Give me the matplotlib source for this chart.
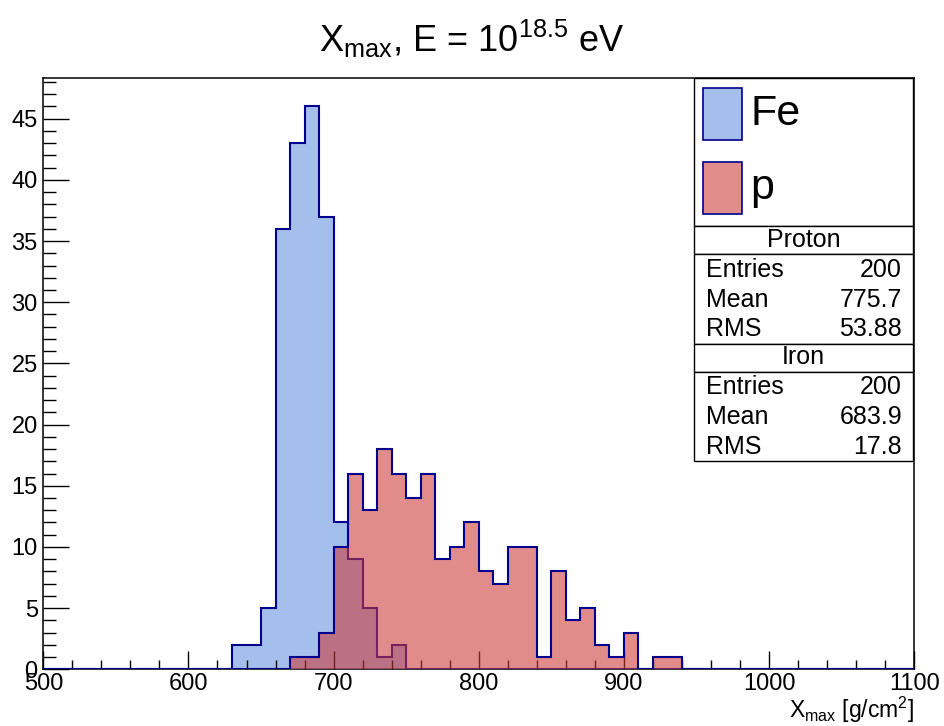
#!/usr/bin/env python3

import numpy as np
import matplotlib
matplotlib.use('Agg')
import matplotlib.pyplot as plt
from matplotlib.patches import Rectangle

plt.rcParams['font.family'] = ['Liberation Sans', 'DejaVu Sans']
plt.rcParams['mathtext.fontset'] = 'custom'
plt.rcParams['mathtext.rm'] = 'Liberation Sans'
plt.rcParams['mathtext.it'] = 'Liberation Sans:italic'

# 60 bins of 10 g/cm2 between 500 and 1100
x_lo = 500
x_hi = 1100
bin_width = 10

# Iron counts, bins 630 .. 750
iron_start = 630
iron_counts = [2, 2, 5, 36, 43, 46, 37, 12, 9, 5, 1, 2]

# Proton counts, bins 670 .. 940
proton_start = 670
proton_counts = [1, 1, 3, 10, 16, 13, 18, 16, 14, 16, 9, 10, 12, 8, 7,
                 10, 10, 1, 8, 4, 5, 2, 1, 3, 0, 1, 1]

legend_labels = ["Fe", "p"]
stat_names = ["Entries", "Mean", "RMS"]
proton_stats = ["200", "775.7", "53.88"]
iron_stats = ["200", "683.9", "17.8"]

edges = np.arange(x_lo, x_hi + bin_width, bin_width)


def full_hist(start, counts):
    h = np.zeros(len(edges) - 1)
    i0 = (start - x_lo) // bin_width
    h[i0:i0 + len(counts)] = counts
    return h


iron = full_hist(iron_start, iron_counts)
proton = full_hist(proton_start, proton_counts)

navy = '#00008f'
blue_fill = (0.30, 0.50, 0.86, 0.50)
red_fill = (0.80, 0.22, 0.22, 0.58)

W, H = 944, 726
fig = plt.figure(figsize=(W / 100, H / 100), dpi=100)

# frame: left 43, right 914, top 78, bottom 669 (pixels)
L, R, T, B = 43.3, 914.3, 78.3, 669.3
ax = fig.add_axes([L / W, 1 - B / H, (R - L) / W, (B - T) / H])

ax.stairs(iron, edges, fill=True, color=blue_fill, zorder=1)
ax.stairs(iron, edges, color=navy, lw=1.5, zorder=2)
ax.stairs(proton, edges, fill=True, color=red_fill, zorder=3)
ax.stairs(proton, edges, color=navy, lw=1.5, zorder=4)

ax.set_xlim(x_lo, x_hi)
ax.set_ylim(0, 1.05 * max(iron.max(), proton.max()))

ax.set_xticks(np.arange(500, 1101, 100))
ax.set_xticks(np.arange(500, 1101, 20), minor=True)
ax.set_yticks(np.arange(0, 46, 5))
ax.set_yticks(np.arange(0, 49, 1), minor=True)

ax.tick_params(axis='both', which='both', direction='in', top=False, right=False,
               labelsize=17, width=1.0, color='black')
ax.tick_params(axis='x', which='major', length=12.7, pad=3)
ax.tick_params(axis='x', which='minor', length=6.4)
ax.tick_params(axis='y', which='major', length=18.7, pad=4)
ax.tick_params(axis='y', which='minor', length=9.4)
for sp in ax.spines.values():
    sp.set_linewidth(1.1)
    sp.set_zorder(0)

# overlay in pixel coordinates for title, labels and boxes
ov = fig.add_axes([0, 0, 1, 1], zorder=5)
ov.set_xlim(0, W)
ov.set_ylim(H, 0)
ov.axis('off')
ov.patch.set_alpha(0)

ov.text(472, 52, r"$\mathregular{X_{max}}$, E = 10$^{\mathregular{18.5}}$ eV",
        fontsize=26, ha='center', va='baseline')
ov.text(914, 718, r"$\mathregular{X_{max}}$ [g/cm$^{\mathregular{2}}$]",
        fontsize=16.5, ha='right', va='baseline')

bx0, bx1 = 694, 913


def box(y0, y1):
    ov.add_patch(Rectangle((bx0, y0), bx1 - bx0, y1 - y0, facecolor='white',
                           edgecolor='black', lw=1.0))


# legend
box(78, 226)
fills = [blue_fill, red_fill]
for k, (lab, fc) in enumerate(zip(legend_labels, fills)):
    y0 = 88.3 + k * 74
    ov.add_patch(Rectangle((703, y0), 39, 52, facecolor=fc, edgecolor=navy, lw=1.2))
    ov.text(750, y0 + 26, lab, fontsize=31, ha='left', va='center')

# stats boxes
blocks = [("Proton", proton_stats, 226), ("Iron", iron_stats, 343.5)]
for name, vals, ytop in blocks:
    box(ytop, ytop + 28)
    ov.text((bx0 + bx1) / 2, ytop + 14, name, fontsize=18, ha='center', va='center')
    box(ytop + 28, ytop + 117.5)
    for j, (sn, v) in enumerate(zip(stat_names, vals)):
        yy = ytop + 44 + j * 29.7
        ov.text(706, yy, sn, fontsize=18, ha='left', va='center')
        ov.text(902, yy, v, fontsize=18, ha='right', va='center')

fig.savefig('out.png', dpi=100)
